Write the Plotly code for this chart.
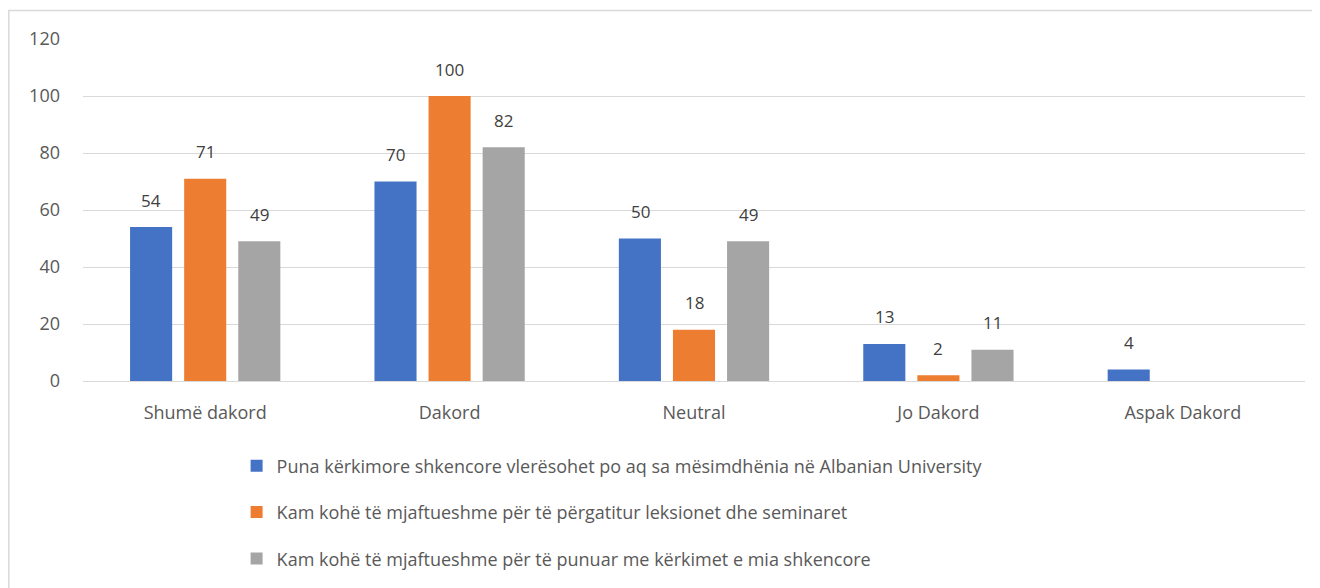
import plotly.graph_objects as go

kategorite = ['Shumë dakord', 'Dakord', 'Neutral', 'Jo Dakord', 'Aspak Dakord']

puna_kerkimore = [54, 70, 50, 13, 4]
leksionet = [71, 100, 18, 2, None]
kerkimet = [49, 82, 49, 11, None]

emrat = [
    'Puna kërkimore shkencore vlerësohet po aq sa mësimdhënia në Albanian University',
    'Kam kohë të mjaftueshme për të përgatitur leksionet dhe seminaret',
    'Kam kohë të mjaftueshme për të punuar me kërkimet e mia shkencore',
]
ngjyrat = ['#4472C4', '#ED7D31', '#A5A5A5']
zhvendosjet = [-54, 0, 54]  # px, pozicioni i etiketës mbi secilën kolonë

fig = go.Figure()
for i, (vlerat, emri, ngjyra) in enumerate(zip([puna_kerkimore, leksionet, kerkimet], emrat, ngjyrat)):
    fig.add_trace(go.Bar(
        x=kategorite,
        y=vlerat,
        name=emri,
        marker=dict(color=ngjyra, line=dict(width=0)),
        legendgroup=f'g{i}',
        hoverinfo='x+y',
    ))
    # etiketat e vlerave
    for kat, v in zip(kategorite, vlerat):
        if v is None:
            continue
        fig.add_annotation(x=kat, y=v, text=str(v), showarrow=False,
                           xshift=zhvendosjet[i], yshift=27, yanchor='middle',
                           font=dict(family='Open Sans', size=17, color='#404040'))

# korniza e grafikut
fig.add_shape(type='rect', xref='paper', yref='paper',
              x0=-0.0607, x1=1.03, y0=-0.8, y1=1.0831,
              line=dict(color='#d9d9d9', width=1.5), layer='below')

fig.update_layout(
    width=1312, height=580,
    margin=dict(l=75, r=15, t=31, b=206),
    plot_bgcolor='white',
    paper_bgcolor='white',
    font=dict(family='Open Sans', color='#595959', size=18),
    barmode='group',
    bargap=0.336,
    bargroupgap=0.222,
    showlegend=True,
    legend=dict(
        orientation='v', x=0.1257, xanchor='left', y=-0.191, yanchor='top',
        font=dict(size=18, color='#595959'),
        tracegroupgap=20,
    ),
    xaxis=dict(showline=False, ticks='', tickfont=dict(size=18, color='#595959'),
               ticklabelstandoff=19),
    yaxis=dict(range=[0, 120], dtick=20, gridcolor='#d9d9d9', gridwidth=1,
               zeroline=True, zerolinecolor='#d9d9d9', zerolinewidth=1,
               tickfont=dict(size=18, color='#595959'), ticklabelstandoff=22),
)

fig.write_html('out.html')
